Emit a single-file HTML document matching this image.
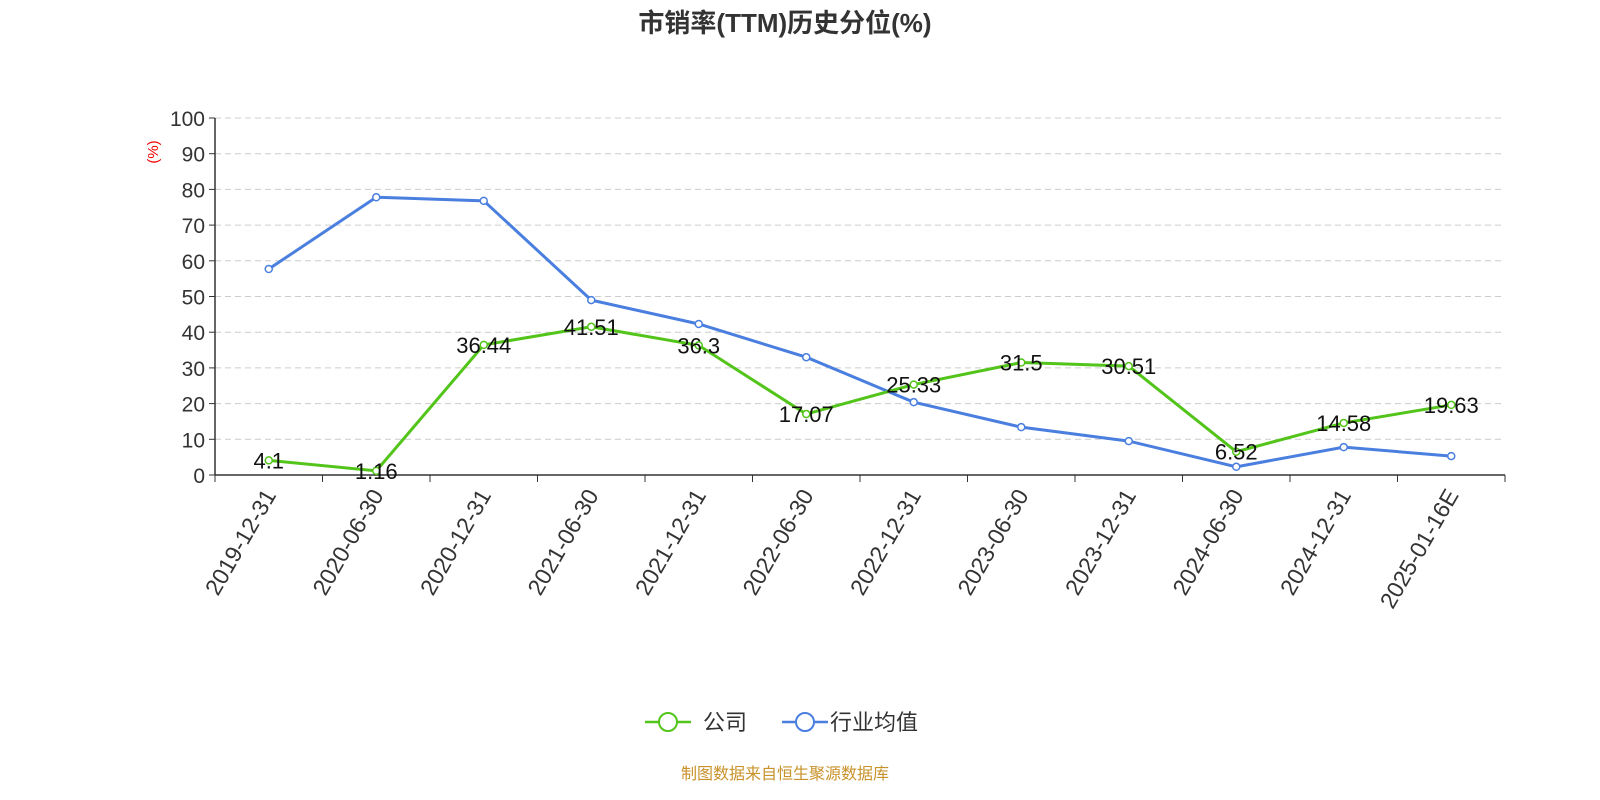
<!DOCTYPE html>
<html><head><meta charset="utf-8"><style>
body{margin:0;background:#fff;}
svg{display:block;font-family:"Liberation Sans","Noto Sans CJK SC",sans-serif;}
</style></head><body>
<svg id="chart" width="1600" height="800" viewBox="0 0 1600 800">
<text x="785" y="32" text-anchor="middle" font-size="26" font-weight="bold" fill="#333">市销率(TTM)历史分位(%)</text>
<text x="0" y="0" transform="translate(158,152) rotate(-90)" text-anchor="middle" font-size="15" fill="#e00">(%)</text>
<g id="grid"></g><g id="axes"></g><g id="series"></g>
<g>
<g>
<line x1="645" y1="722" x2="691" y2="722" stroke="#52c41a" stroke-width="2.5"/>
<circle cx="668" cy="722" r="9" fill="#fff" stroke="#52c41a" stroke-width="2"/>
<text x="703" y="730" font-size="22" fill="#333">公司</text></g>
<g>
<line x1="782" y1="722" x2="828" y2="722" stroke="#4a7fdf" stroke-width="2.5"/>
<circle cx="805" cy="722" r="9" fill="#fff" stroke="#4a7fdf" stroke-width="2"/>
<text x="830" y="730" font-size="22" fill="#333">行业均值</text></g>
</g>
<text x="785" y="779" text-anchor="middle" font-size="16" fill="#c8922a">制图数据来自恒生聚源数据库</text>
</svg>
<script>
const categories=["2019-12-31","2020-06-30","2020-12-31","2021-06-30","2021-12-31","2022-06-30","2022-12-31","2023-06-30","2023-12-31","2024-06-30","2024-12-31","2025-01-16E"];
const companyValues=[4.1,1.16,36.44,41.51,36.3,17.07,25.33,31.5,30.51,6.52,14.58,19.63];
const industryValues=[57.7,77.8,76.8,49,42.3,33,20.4,13.4,9.5,2.3,7.8,5.3];
const yTicks=[0,10,20,30,40,50,60,70,80,90,100];
const NS="http://www.w3.org/2000/svg";
const X0=215,X1=1505,Y0=475,Y1=118;
const bw=(X1-X0)/categories.length;
const xs=i=>X0+bw*(i+0.5);
const ys=v=>Y0-(v/100)*(Y0-Y1);
function mk(tag,attrs,parent){const e=document.createElementNS(NS,tag);for(const k in attrs)e.setAttribute(k,attrs[k]);parent.appendChild(e);return e;}
const grid=document.getElementById('grid'),axes=document.getElementById('axes'),ser=document.getElementById('series');
yTicks.forEach(t=>{
 if(t>0){const g=mk('line',{x1:X0,x2:X1,y1:ys(t),y2:ys(t),stroke:'#ccc','stroke-dasharray':'6,4'},grid);
 
 }
 const tk=mk('line',{x1:X0-6,x2:X0,y1:ys(t),y2:ys(t),stroke:'#333'},axes);
 
 
 const l=mk('text',{x:X0-10,y:ys(t)+8,'text-anchor':'end','font-size':21,fill:'#333'},axes);
 l.textContent=t;
 
 
});
const ya=mk('line',{x1:X0,x2:X0,y1:Y1,y2:Y0,stroke:'#333','stroke-width':1.5},axes);


const xa=mk('line',{x1:X0,x2:X1,y1:Y0,y2:Y0,stroke:'#333','stroke-width':1.5},axes);


for(let i=0;i<=categories.length;i++){
 const tk=mk('line',{x1:X0+bw*i,x2:X0+bw*i,y1:Y0,y2:Y0+7,stroke:'#333'},axes);
 
 
}
categories.forEach((c,i)=>{
 const l=mk('text',{x:0,y:0,transform:`translate(${xs(i)+8},${Y0+20}) rotate(-60)`,'text-anchor':'end','font-size':23,fill:'#333'},axes);
 l.textContent=c;
 
 
});
function drawSeries(vals,color,name){
 const p=mk('polyline',{points:vals.map((v,i)=>xs(i)+','+ys(v)).join(' '),fill:'none',stroke:color,'stroke-width':3},ser);
 
 
 vals.forEach((v,i)=>{
  const c=mk('circle',{cx:xs(i),cy:ys(v),r:3.5,fill:'#fff',stroke:color,'stroke-width':1.5},ser);
  
  
 });
}
drawSeries(industryValues,'#4a7fdf','industry');
drawSeries(companyValues,'#52c41a','company');
companyValues.forEach((v,i)=>{
 const t=mk('text',{x:xs(i),y:ys(v)+8,'text-anchor':'middle','font-size':22,fill:'#111'},ser);
 t.textContent=v;
 
 
});
</script>
</body></html>
